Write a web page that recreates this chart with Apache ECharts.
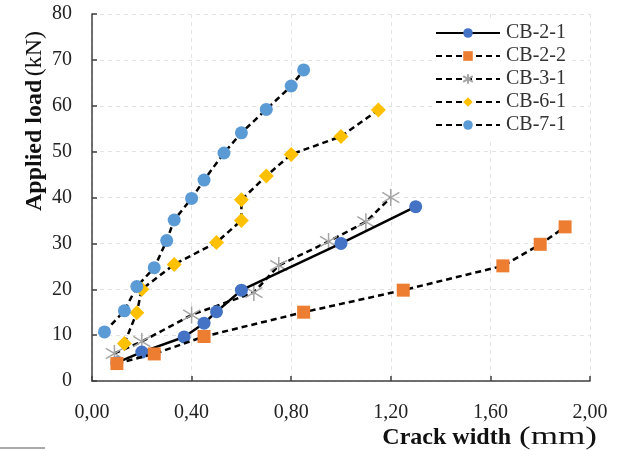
<!DOCTYPE html>
<html><head><meta charset="utf-8">
<script src="https://cdn.jsdelivr.net/npm/echarts@6/dist/echarts.min.js"></script>
<style>html,body{margin:0;padding:0;background:#fff}#c{width:619px;height:451px}</style>
</head><body><div id="c"></div>
<script>
const seriesNames = ['CB-2-1','CB-2-2','CB-3-1','CB-6-1','CB-7-1'];
const cb21X = [0.10,0.20,0.37,0.45,0.50,0.60,1.00,1.30];
const cb21Y = [4.0,6.3,9.6,12.6,15.1,19.8,30.0,38.0];
const cb22X = [0.10,0.25,0.45,0.85,1.25,1.65,1.80,1.90];
const cb22Y = [3.8,5.9,9.7,15.0,19.8,25.1,29.8,33.6];
const cb31X = [0.09,0.20,0.40,0.65,0.75,0.95,1.10,1.20];
const cb31Y = [6.0,8.6,14.4,19.3,25.2,30.4,34.7,40.0];
const cb61X = [0.13,0.18,0.20,0.33,0.50,0.60,0.60,0.70,0.80,1.00,1.15];
const cb61Y = [8.2,14.9,20.0,25.4,30.2,35.0,39.5,44.7,49.4,53.3,59.1];
const cb71X = [0.05,0.13,0.18,0.25,0.30,0.33,0.40,0.45,0.53,0.60,0.70,0.80,0.85];
const cb71Y = [10.7,15.3,20.6,24.7,30.6,35.1,39.8,43.8,49.7,54.1,59.2,64.3,67.8];
const xTicks = [0,0.4,0.8,1.2,1.6,2.0];
const yTicks = [0,10,20,30,40,50,60,70,80];

const pair = (xs, ys) => xs.map((x, i) => [x, ys[i]]);
const font = '"Liberation Serif","Times New Roman",serif';
const asterisk = 'path://M0,-10L0,10M-9,-6L9,6M-9,6L9,-6';

const chart = echarts.init(document.getElementById('c'));
const dashed = {color:'#000', width:2.5, type:[6,4]};
chart.setOption({
  animation:false,
  backgroundColor:'#fff',
  textStyle:{fontFamily:font},
  grid:{left:92,right:29,top:14,bottom:70,containLabel:false},
  legend:{
    orient:'vertical', left:433, top:19,
    itemWidth:64, itemHeight:12, itemGap:3,
    backgroundColor:'#fff', padding:[4,4,4,2],
    textStyle:{fontFamily:font, fontSize:20, color:'#333', padding:[0,0,0,1]},
    data:seriesNames
  },
  xAxis:{
    type:'value', min:0, max:2.0, interval:0.4,
    axisLine:{show:true, lineStyle:{color:'#404040', width:1.5}},
    axisTick:{show:true, inside:true, length:5, lineStyle:{color:'#404040', width:1.5}},
    axisLabel:{fontFamily:font, fontSize:20, color:'#222', margin:22,
      formatter:v => v.toFixed(2).replace('.',',')},
    splitLine:{show:true, lineStyle:{color:'#e3e3e3', type:[4,4]}}
  },
  yAxis:{
    type:'value', min:0, max:80, interval:10,
    axisLine:{show:true, lineStyle:{color:'#404040', width:1.5}},
    axisTick:{show:true, inside:true, length:5, lineStyle:{color:'#404040', width:1.5}},
    axisLabel:{fontFamily:font, fontSize:20, color:'#222', margin:20},
    splitLine:{show:true, lineStyle:{color:'#e3e3e3', type:[4,4]}}
  },
  graphic:[
    {type:'text', x:35, y:121, rotation:Math.PI/2, z:10,
     style:{text:'{b|Applied load} {n|(kN)}', align:'center', verticalAlign:'middle',
       rich:{b:{fontFamily:font, fontSize:24, fontWeight:'bold', fill:'#111'},
             n:{fontFamily:font, fontSize:24, fill:'#111'}}}},
    {type:'text', x:511, y:438, z:10,
     style:{text:'Crack width', align:'right', verticalAlign:'middle',
       fontFamily:font, fontSize:24, fontWeight:'bold', fill:'#111'}},
    {type:'text', x:519, y:437, scaleX:1.35, z:10,
     style:{text:'(mm)', align:'left', verticalAlign:'middle',
       fontFamily:font, fontSize:26, fill:'#111'}},
    {type:'line', shape:{x1:0,y1:448,x2:45,y2:448}, style:{stroke:'#555', lineWidth:1}}
  ],
  series:[
    {name:'CB-2-1', type:'line', data:pair(cb21X,cb21Y), symbol:'circle', symbolSize:13,
     lineStyle:{color:'#000', width:2.5}, itemStyle:{color:'#4472C4'}, z:3},
    {name:'CB-2-2', type:'line', data:pair(cb22X,cb22Y), symbol:'rect', symbolSize:13,
     lineStyle:dashed, itemStyle:{color:'#ED7D31'}, z:4},
    {name:'CB-3-1', type:'line', data:pair(cb31X,cb31Y), symbol:asterisk, symbolSize:17,
     lineStyle:dashed, itemStyle:{color:'transparent', borderColor:'#A5A5A5', borderWidth:1.5}, z:2},
    {name:'CB-6-1', type:'line', data:pair(cb61X,cb61Y), symbol:'diamond', symbolSize:[15,15],
     lineStyle:dashed, itemStyle:{color:'#FFC000'}, z:3},
    {name:'CB-7-1', type:'line', data:pair(cb71X,cb71Y), symbol:'circle', symbolSize:13,
     lineStyle:dashed, itemStyle:{color:'#5B9BD5'}, z:3}
  ]
});
</script></body></html>
